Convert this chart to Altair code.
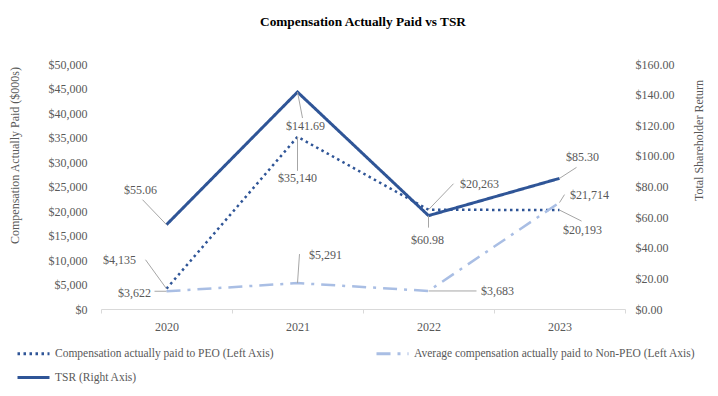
import altair as alt
import pandas as pd

# ---- data ----
years = ["2020", "2021", "2022", "2023"]
peo = [4135, 35140, 20263, 20193]
non_peo = [3622, 5291, 3683, 21714]
tsr = [55.06, 141.69, 60.98, 85.30]

s_peo = "Compensation actually paid to PEO (Left Axis)"
s_non = "Average compensation actually paid to Non-PEO (Left Axis)"
s_tsr = "TSR (Right Axis)"

peo_labels = ["$4,135", "$35,140", "$20,263", "$20,193"]
non_labels = ["$3,622", "$5,291", "$3,683", "$21,714"]
tsr_labels = ["$55.06", "$141.69", "$60.98", "$85.30"]

# label offsets (pixels) and leader-line end offsets (pixels)
peo_off = [(-47, -29, -21, -29), (0, 41, 0, 34), (51, -26, 25, -26), (23, 20, 22, 11)]
non_off = [(-32, 2, -12, 0), (28, -28, 2, -29), (69, 0, 48, 0), (30, -8, 5, -8)]
tsr_off = [(-26, -35, -24, -25), (8, 34, 5, 26), (-1, 24, 0, 12), (23, -21, 17, -11)]

FONT = "Liberation Serif"
GRAY = "#595959"
NAVY = "#2F5597"
LIGHT = "#A9BEE4"
LEADER = "#A6A6A6"

left_df = pd.DataFrame({
    "year": years * 2,
    "value": peo + non_peo,
    "series": [s_peo] * 4 + [s_non] * 4,
})
tsr_df = pd.DataFrame({"year": years, "value": tsr, "series": [s_tsr] * 4})


def ann(vals, labels, offs):
    return pd.DataFrame({
        "year": years,
        "value": vals,
        "label": labels,
        "dx": [o[0] for o in offs],
        "dy": [o[1] for o in offs],
        "lx": [o[2] for o in offs],
        "ly": [o[3] for o in offs],
    })


left_ann = pd.concat([ann(peo, peo_labels, peo_off), ann(non_peo, non_labels, non_off)])
right_ann = ann(tsr, tsr_labels, tsr_off)

x = alt.X(
    "year:N",
    scale=alt.Scale(type="band", paddingInner=0, paddingOuter=0),
    axis=alt.Axis(title=None, labelAngle=0, tickBand="extent", domainColor="#D9D9D9",
                  tickColor="#D9D9D9", tickSize=4, labelPadding=8, labelFontSize=12,
                  labelColor=GRAY, labelFont=FONT, grid=False),
)
x2 = alt.X2("year:N")
domain = [s_peo, s_non, s_tsr]
color = alt.Color("series:N", scale=alt.Scale(domain=domain, range=[NAVY, LIGHT, NAVY]),
                  legend=alt.Legend(title=None))
dash = alt.StrokeDash("series:N",
                      scale=alt.Scale(domain=domain, range=[[2.5, 3.5], [14, 7, 3, 7], [1, 0]]),
                      legend=alt.Legend(title=None))

yl = alt.Y("value:Q", scale=alt.Scale(domain=[0, 50000]),
           axis=alt.Axis(orient="left", values=list(range(0, 50001, 5000)), format="$,.0f",
                         domain=False, ticks=False, grid=False, labelPadding=14,
                         labelOverlap=False,
                         labelFont=FONT, labelFontSize=12, labelColor=GRAY,
                         title="Compensation Actually Paid ($000s)", titleFont=FONT,
                         titleFontSize=12, titleFontWeight="normal", titleColor=GRAY,
                         titleX=-87, titleY=91, titleAngle=270, titleAlign="center",
                         titleBaseline="middle"))
yr = alt.Y("value:Q", scale=alt.Scale(domain=[0, 160]),
           axis=alt.Axis(orient="right", values=list(range(0, 161, 20)), format="$,.2f",
                         domain=False, ticks=False, grid=False, labelPadding=10,
                         labelOverlap=False,
                         labelFont=FONT, labelFontSize=12, labelColor=GRAY,
                         title="Total Shareholder Return", titleFont=FONT,
                         titleFontSize=12, titleFontWeight="normal", titleColor=GRAY,
                         titleX=73, titleY=76, titleAngle=270, titleAlign="center",
                         titleBaseline="middle"))

left_lines = alt.Chart(left_df).mark_line(strokeWidth=2.5, strokeCap="butt").encode(
    x=x, y=yl, color=color, strokeDash=dash)
left_rules = alt.Chart(left_ann).mark_rule(
    color=LEADER, strokeWidth=1,
    x2Offset=alt.ExprRef("datum.lx"), y2Offset=alt.ExprRef("datum.ly")).encode(
    x=x, y=yl, x2=x2, y2="value:Q")
left_text = alt.Chart(left_ann).mark_text(
    font=FONT, fontSize=12, color=GRAY, baseline="middle", align="center",
    dx=alt.ExprRef("datum.dx"), dy=alt.ExprRef("datum.dy")).encode(
    x=x, y=yl, text="label:N")

right_line = alt.Chart(tsr_df).mark_line(strokeWidth=3, strokeCap="butt").encode(
    x=x, y=yr, color=color, strokeDash=dash)
right_rules = alt.Chart(right_ann).mark_rule(
    color=LEADER, strokeWidth=1,
    x2Offset=alt.ExprRef("datum.lx"), y2Offset=alt.ExprRef("datum.ly")).encode(
    x=x, y=yr, x2=x2, y2="value:Q")
right_text = alt.Chart(right_ann).mark_text(
    font=FONT, fontSize=12, color=GRAY, baseline="middle", align="center",
    dx=alt.ExprRef("datum.dx"), dy=alt.ExprRef("datum.dy")).encode(
    x=x, y=yr, text="label:N")

left = alt.layer(left_lines, left_rules, left_text)
right = alt.layer(right_line, right_rules, right_text)

chart = alt.layer(left, right).resolve_scale(y="independent").properties(
    width=524, height=245,
    title=alt.TitleParams("Compensation  Actually Paid vs TSR", font=FONT, fontSize=13.3,
                          fontWeight="bold", color="black", anchor="middle", offset=30),
    autosize=alt.AutoSizeParams(type="none"),
    padding={"left": 93, "top": 56, "right": 85, "bottom": 79},
).configure_view(stroke=None).configure_legend(
    orient="none", legendX=-85, legendY=272, columns=2, columnPadding=95, rowPadding=-6,
    direction="horizontal",
    symbolType="stroke", symbolSize=1024, symbolStrokeWidth=3, symbolOffset=0,
    labelFont=FONT, labelFontSize=11.5, labelColor=GRAY, labelLimit=400, labelOffset=4,
)

chart.save("out.html", embed_options={"renderer": "svg", "actions": False})
